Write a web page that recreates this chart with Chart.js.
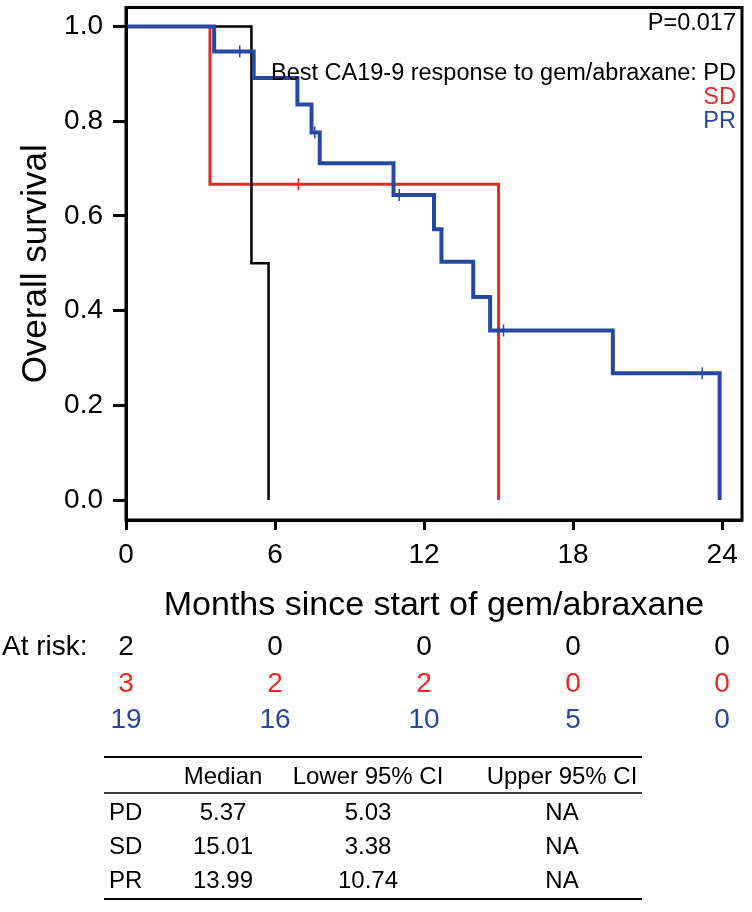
<!DOCTYPE html>
<html>
<head>
<meta charset="utf-8">
<script src="https://cdn.jsdelivr.net/npm/chart.js@4.4.1/dist/chart.umd.min.js"></script>
<style>
  html, body { margin: 0; padding: 0; background: #fff; }
  #wrap { width: 752px; height: 912px; }
</style>
</head>
<body>
<div id="wrap"><canvas id="km" width="752" height="912"></canvas></div>
<script>
const xTicks = [0, 6, 12, 18, 24];
const yTicks = [0, 0.2, 0.4, 0.6, 0.8, 1.0];
const groups = ["PD", "SD", "PR"];

// Kaplan-Meier steps (time in months, survival after the drop)
const pdTime = [0, 5.05, 5.74];
const pdSurv = [1, 0.5, 0];
const sdTime = [0, 3.38, 15.0];
const sdSurv = [1, 0.667, 0];
const prTime = [0, 3.55, 5.14, 6.9, 7.47, 7.8, 10.77, 12.4, 12.7, 13.98, 14.66, 19.6, 23.9];
const prSurv = [1, 0.947, 0.891, 0.835, 0.776, 0.711, 0.644, 0.572, 0.503, 0.429, 0.358, 0.268, 0];

// censored observations
const sdCensorTime = [6.94];
const sdCensorSurv = [0.667];
const prCensorTime = [4.58, 7.6, 11.0, 15.2, 23.2];
const prCensorSurv = [0.947, 0.776, 0.644, 0.358, 0.268];

// numbers at risk at each x tick
const riskPD = [2, 0, 0, 0, 0];
const riskSD = [3, 2, 2, 0, 0];
const riskPR = [19, 16, 10, 5, 0];

// median survival table
const tableHead = ["", "Median", "Lower 95% CI", "Upper 95% CI"];
const medians = ["5.37", "15.01", "13.99"];
const lowerCI = ["5.03", "3.38", "10.74"];
const upperCI = ["NA", "NA", "NA"];
const pText = "P=0.017";
const legendTitle = "Best CA19-9 response to gem/abraxane: ";

// ——— colours & fonts ———
const colBlack = "#000000";
const colRed = "#E22B26";
const colBlue = "#2548A0";
const groupColors = [colBlack, colRed, colBlue];
const FONT = "'Liberation Sans', Arial, Helvetica, sans-serif";

const toPts = (xs, ys) => xs.map((x, i) => ({ x: x, y: ys[i] }));

// ——— extra drawing: frame, legend text, at-risk rows, table ———
const decorPlugin = {
  id: "decor",
  afterDraw(chart) {
    const { ctx, chartArea: a, scales } = chart;
    ctx.save();
    // plot frame
    ctx.strokeStyle = "#000";
    ctx.lineWidth = 3;
    ctx.strokeRect(a.left, a.top, a.right - a.left, a.bottom - a.top);

    // p-value and group legend (inside plot, right aligned)
    ctx.font = "23.5px " + FONT;
    ctx.textAlign = "right";
    ctx.textBaseline = "middle";
    const rx = a.right - 6;
    ctx.fillStyle = colBlack;
    ctx.fillText(pText, rx, 24);
    ctx.fillText(legendTitle + groups[0], rx, 74);
    ctx.fillStyle = colRed;
    ctx.fillText(groups[1], rx, 98);
    ctx.fillStyle = colBlue;
    ctx.fillText(groups[2], rx, 122);

    // numbers at risk
    ctx.font = "28px " + FONT;
    ctx.textAlign = "left";
    ctx.fillStyle = colBlack;
    ctx.fillText("At risk:", 2, 647);
    ctx.textAlign = "center";
    const riskRows = [riskPD, riskSD, riskPR];
    const riskY = [647, 684, 720];
    riskRows.forEach((row, r) => {
      ctx.fillStyle = groupColors[r];
      row.forEach((n, i) => {
        ctx.fillText(String(n), scales.x.getPixelForValue(xTicks[i]), riskY[r]);
      });
    });

    // median table
    const tL = 104, tR = 642;
    ctx.strokeStyle = "#000";
    ctx.lineWidth = 2;
    ctx.beginPath(); ctx.moveTo(tL, 757); ctx.lineTo(tR, 757); ctx.stroke();
    ctx.lineWidth = 1.5;
    ctx.beginPath(); ctx.moveTo(tL, 793); ctx.lineTo(tR, 793); ctx.stroke();
    ctx.lineWidth = 2;
    ctx.beginPath(); ctx.moveTo(tL, 899); ctx.lineTo(tR, 899); ctx.stroke();

    ctx.font = "24px " + FONT;
    ctx.fillStyle = colBlack;
    const colX = [109, 223, 368, 562];
    ctx.textAlign = "center";
    for (let c = 1; c < tableHead.length; c++) ctx.fillText(tableHead[c], colX[c], 777);
    const rowY = [813, 847, 881];
    groups.forEach((g, r) => {
      ctx.textAlign = "left";
      ctx.fillText(g, colX[0], rowY[r]);
      ctx.textAlign = "center";
      ctx.fillText(medians[r], colX[1], rowY[r]);
      ctx.fillText(lowerCI[r], colX[2], rowY[r]);
      ctx.fillText(upperCI[r], colX[3], rowY[r]);
    });
    ctx.restore();
  },
};

function stepSet(label, xs, ys, color, width, order) {
  return {
    label: label,
    data: toPts(xs, ys),
    borderColor: color,
    borderWidth: width,
    stepped: true,
    pointRadius: 0,
    fill: false,
    order: order,
  };
}

function censorSet(label, xs, ys, color, order) {
  return {
    label: label,
    data: toPts(xs, ys),
    showLine: false,
    pointStyle: "line",
    rotation: 90,
    pointRadius: 6,
    borderColor: color,
    borderWidth: 1.5,
    order: order,
  };
}

// remove the automatic label overhang padding so the plot box lands where it should
function noOverhang(s) {
  s.paddingTop = 0;
  s.paddingBottom = 0;
  s.paddingLeft = 0;
  s.paddingRight = 0;
}

const ctx = document.getElementById("km").getContext("2d");
new Chart(ctx, {
  type: "line",
  data: {
    datasets: [
      censorSet("PR censored", prCensorTime, prCensorSurv, colBlue, 0),
      stepSet("PR", prTime, prSurv, colBlue, 4, 1),
      stepSet("PD", pdTime, pdSurv, colBlack, 2.5, 2),
      censorSet("SD censored", sdCensorTime, sdCensorSurv, colRed, 3),
      stepSet("SD", sdTime, sdSurv, colRed, 3, 4),
    ],
  },
  options: {
    responsive: false,
    animation: false,
    layout: { padding: { left: 0, top: 1, right: 10, bottom: 286 } },
    plugins: { legend: { display: false }, tooltip: { enabled: false } },
    scales: {
      x: {
        type: "linear",
        min: 0,
        max: 24.8,
        afterFit: (s) => { s.height = 106; noOverhang(s); },
        afterBuildTicks: (s) => { s.ticks = xTicks.map((v) => ({ value: v })); },
        grid: { drawOnChartArea: false, drawTicks: true, tickLength: 10, tickWidth: 3, color: "#000" },
        border: { display: true, width: 3, color: "#000" },
        ticks: { padding: 8, color: "#000", font: { family: FONT, size: 28 } },
        title: {
          display: true,
          text: "Months since start of gem/abraxane",
          color: "#000",
          padding: { top: 0, bottom: 0 },
          font: { family: FONT, size: 34 },
        },
      },
      y: {
        type: "linear",
        min: -0.042,
        max: 1.04,
        afterFit: (s) => { s.width = 126; noOverhang(s); },
        afterBuildTicks: (s) => { s.ticks = yTicks.map((v) => ({ value: v })); },
        grid: { drawOnChartArea: false, drawTicks: true, tickLength: 13, tickWidth: 3, color: "#000" },
        border: { display: true, width: 3, color: "#000" },
        ticks: {
          padding: 10,
          color: "#000",
          font: { family: FONT, size: 28 },
          callback: (v) => Number(v).toFixed(1),
        },
        title: {
          display: true,
          text: "Overall survival",
          color: "#000",
          padding: { top: 15, bottom: 0 },
          font: { family: FONT, size: 35 },
        },
      },
    },
  },
  plugins: [decorPlugin],
});
</script>
</body>
</html>
